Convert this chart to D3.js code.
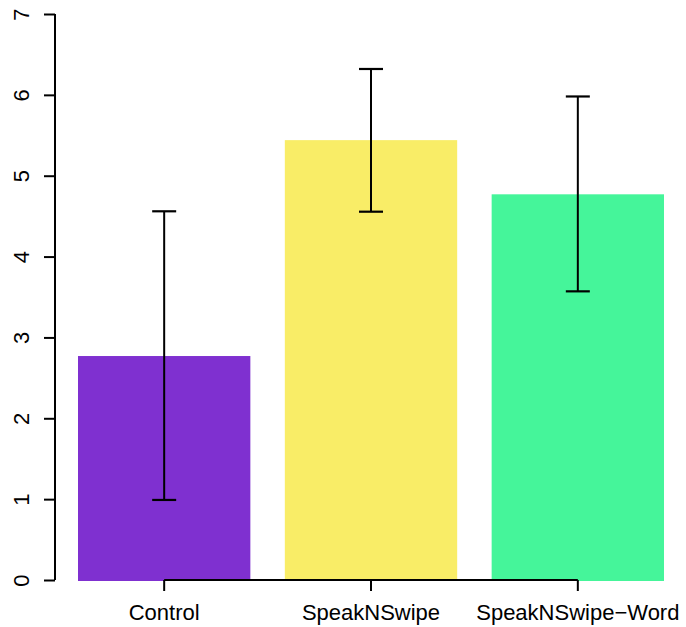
<!DOCTYPE html>
<html>
<head>
<meta charset="utf-8">
<script src="https://cdn.jsdelivr.net/npm/d3@7"></script>
<style>
  html, body { margin: 0; padding: 0; background: #fff; }
  svg { display: block; }
  text { font-family: "Liberation Sans", Arial, Helvetica, sans-serif; fill: #000; }
</style>
</head>
<body>
<svg id="chart" width="686" height="627"></svg>
<script>
// Mean score per condition with error-bar bounds
const categories = ["Control", "SpeakNSwipe", "SpeakNSwipe\u2212Word"];
const means = [2.77, 5.44, 4.77];
const lowerBounds = [0.99, 4.555, 3.57];
const upperBounds = [4.56, 6.32, 5.98];
const yTicks = [0, 1, 2, 3, 4, 5, 6, 7];

const palette = ["#7F30D0", "#F9ED67", "#45F59A"];

const svg = d3.select("#chart");

const x = d3.scaleBand()
  .domain(categories)
  .range([78, 664])
  .paddingInner(1 / 6)
  .paddingOuter(0);

const y = d3.scaleLinear()
  .domain([0, 7])
  .range([580, 14]);

const rows = categories.map((c, i) => ({
  cat: c, mean: means[i], lo: lowerBounds[i], hi: upperBounds[i], color: palette[i]
}));

// Bars
svg.append("g")
  .selectAll("rect")
  .data(rows)
  .join("rect")
  .attr("x", d => x(d.cat))
  .attr("y", d => y(d.mean))
  .attr("width", x.bandwidth())
  .attr("height", d => y(0) - y(d.mean) + 1)
  .attr("fill", d => d.color);

// Error bars
const cx = d => x(d.cat) + x.bandwidth() / 2;
const capHalf = 12;
const err = svg.append("g").attr("stroke", "#000").attr("fill", "none");
err.selectAll("line.stem")
  .data(rows).join("line").attr("class", "stem")
  .attr("x1", cx).attr("x2", cx)
  .attr("y1", d => y(d.lo)).attr("y2", d => y(d.hi))
  .attr("stroke-width", 2);
err.selectAll("line.capHi")
  .data(rows).join("line").attr("class", "capHi")
  .attr("x1", d => cx(d) - capHalf).attr("x2", d => cx(d) + capHalf)
  .attr("y1", d => y(d.hi)).attr("y2", d => y(d.hi))
  .attr("stroke-width", 2.2);
err.selectAll("line.capLo")
  .data(rows).join("line").attr("class", "capLo")
  .attr("x1", d => cx(d) - capHalf).attr("x2", d => cx(d) + capHalf)
  .attr("y1", d => y(d.lo)).attr("y2", d => y(d.lo))
  .attr("stroke-width", 2.2);

// Y axis (labels rotated, R style)
const yAxis = svg.append("g")
  .attr("transform", "translate(55,0)")
  .call(d3.axisLeft(y).tickValues(yTicks).tickSize(11).tickSizeOuter(0).tickFormat(d3.format("d")));
yAxis.attr("font-size", null).attr("font-family", null);
yAxis.select(".domain").attr("stroke-width", 2).attr("d", `M0,${y(0)}V${y(7)}`);
yAxis.selectAll(".tick line").attr("stroke-width", 2);
yAxis.selectAll(".tick text")
  .attr("x", null).attr("dy", null)
  .attr("transform", "translate(-26,0) rotate(-90)")
  .attr("text-anchor", "middle")
  .style("font-size", "22px");

// X axis spanning bar centres
const first = cx(rows[0]), last = cx(rows[rows.length - 1]);
const xAxis = svg.append("g")
  .attr("transform", `translate(0,${y(0)})`)
  .call(d3.axisBottom(x).tickSize(11).tickSizeOuter(0));
xAxis.attr("font-size", null).attr("font-family", null);
xAxis.select(".domain").attr("stroke-width", 2).attr("d", `M${first},0H${last}`);
xAxis.selectAll(".tick line").attr("stroke-width", 2);
xAxis.selectAll(".tick text")
  .attr("y", 40).attr("dy", null)
  .style("font-size", "22px");
</script>
</body>
</html>
